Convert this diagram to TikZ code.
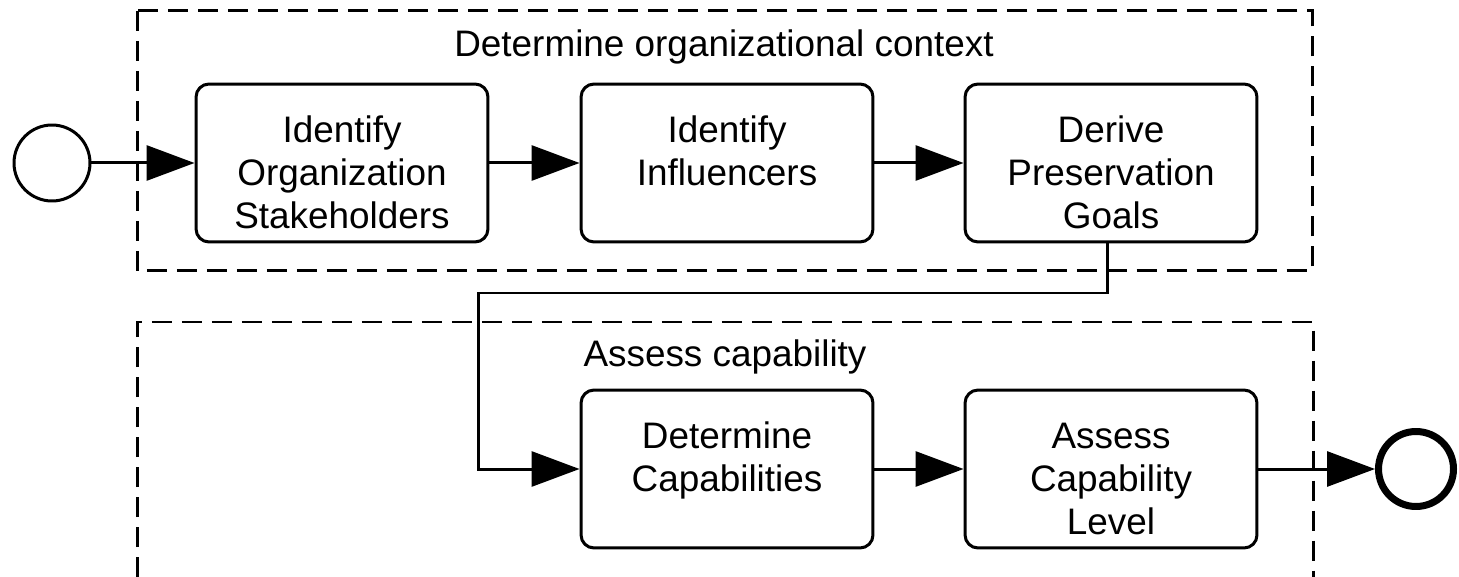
\documentclass[tikz,border=0pt]{standalone}
\usepackage{fontspec}
\setmainfont{Liberation Sans}
\usepackage{tikz}
\usetikzlibrary{arrows.meta}

\begin{document}
\begin{tikzpicture}[x=0.02cm,y=-0.02cm,line width=0.06cm,
  font=\fontsize{21pt}{24.5pt}\selectfont,
  task/.style={draw,rounded corners=0.26cm,minimum width=5.84cm,minimum height=3.16cm,
    text width=5.5cm,align=center,inner sep=0pt,text height=0.5cm,text depth=1.32cm},
  event/.style={draw,circle,inner sep=0pt},
  flow/.style={-{Triangle[length=0.96cm,width=0.7cm]}},
  lane/.style={dash pattern=on 0.4cm off 0.2cm}]

\useasboundingbox (0,0) rectangle (1459,577);

% Dashed groups, with their titles.
\draw[lane] (137,11) rectangle (1312,271);
\draw[lane] (137,577) -- (137,322) -- (1313,322) -- (1313,577);

\node (ctxtitle) [anchor=base] at (724,57) {Determine organizational context};
\node (captitle) [anchor=base] at (725,366) {Assess capability};

% Tasks, start and end.
\node (ios) [task] at (342,163) {Identify\\Organization\\Stakeholders};
\node (ii)  [task] at (727,163) {Identify\\Influencers};
\node (dpg) [task] at (1111,163) {Derive\\Preservation\\Goals};
\node (dc)  [task] at (727,469) {Determine\\Capabilities};
\node (acl) [task] at (1111,469) {Assess\\Capability\\Level};

\node (start) [event,minimum size=1.52cm] at (52,163) {};
\node (end) [event,minimum size=1.5cm,line width=0.14cm] at (1416,469) {};

% Sequence flows.
\coordinate (bend) at (478,293);

\draw[flow] (start) -- (ios);
\draw[flow] (ios) -- (ii);
\draw[flow] (ii) -- (dpg);
\draw[flow] ([xshift=-0.07cm]dpg.south) |- (bend) |- (dc.west);
\draw[flow] (dc) -- (acl);
\draw[flow] (acl) -- (end);

\end{tikzpicture}
\end{document}
